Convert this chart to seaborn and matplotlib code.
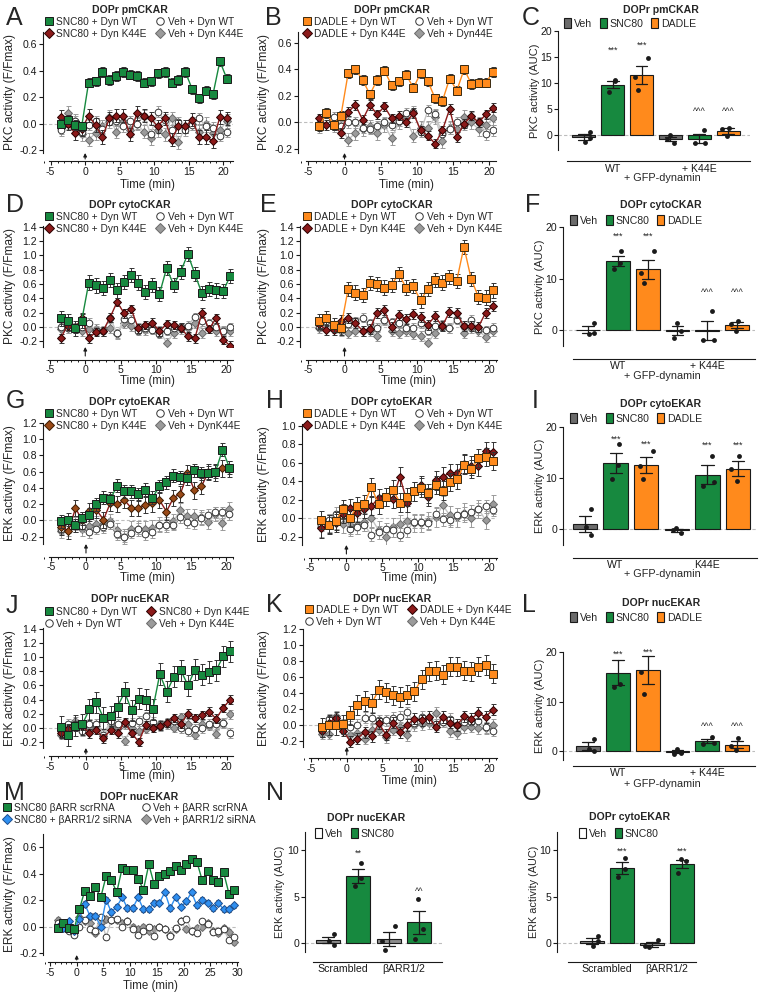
import numpy as np
import pandas as pd
import matplotlib
matplotlib.use("Agg")
import matplotlib.pyplot as plt
from matplotlib.lines import Line2D
from matplotlib.patches import Patch
from matplotlib.ticker import MultipleLocator, FormatStrFormatter
import seaborn as sns

W, H = 762, 994

GREEN = "#17893f"
ORANGE = "#ff8a1c"
DKRED = "#8b1a1a"
BROWN = "#9a4a18"
BLUE = "#2f8ff0"
VEH_BAR = "#6b6b6b"
VEH_BAR_N = "#8c8c8c"

# ---------------- time course data (F/Fmax) ----------------
t20 = np.arange(-3.5, 21, 1.0)
t30 = np.arange(-3.5, 30, 1.0)

A_snc_wt = [0.0, 0.03, -0.01, -0.02, 0.31, 0.32, 0.39, 0.33, 0.36, 0.39, 0.37, 0.36, 0.31,
            0.32, 0.38, 0.39, 0.31, 0.33, 0.39, 0.26, 0.19, 0.25, 0.22, 0.47, 0.34]
A_snc_k44e = [0.05, 0.0, -0.07, -0.04, 0.06, -0.01, -0.1, 0.04, 0.06, 0.06, -0.08, 0.08, 0.06,
              0.04, -0.02, 0.04, -0.12, -0.02, -0.02, 0.03, -0.1, -0.1, -0.13, 0.05, 0.04]
A_veh_wt = [-0.05, 0.0, 0.02, -0.06, -0.01, 0.02, -0.04, 0.01, 0.02, -0.02, 0.02, 0.0, 0.06,
            -0.08, 0.09, 0.03, -0.05, 0.01, -0.05, -0.01, 0.04, -0.02, -0.03, -0.09, -0.06]
A_veh_k44e = [-0.03, 0.08, 0.02, -0.08, -0.12, -0.07, -0.02, 0.05, -0.06, 0.02, -0.05, 0.0, -0.06,
              -0.11, -0.05, -0.08, 0.04, -0.14, -0.02, 0.0, -0.06, 0.0, -0.07, -0.05, 0.02]

B_dad_wt = [-0.03, 0.07, -0.02, 0.05, 0.37, 0.4, 0.32, 0.21, 0.32, 0.39, 0.28, 0.31, 0.36,
            0.26, 0.37, 0.31, 0.18, 0.16, 0.33, 0.24, 0.4, 0.29, 0.3, 0.3, 0.38]
B_dad_k44e = [0.03, -0.02, -0.02, -0.08, 0.08, 0.13, 0.02, 0.13, 0.06, 0.12, 0.03, 0.05, 0.0,
              0.07, -0.06, -0.1, -0.16, -0.06, 0.1, -0.11, -0.01, 0.05, 0.0, 0.06, 0.11]
B_veh_wt = [-0.01, 0.02, 0.04, -0.03, 0.0, 0.0, -0.04, -0.05, -0.03, 0.0, -0.02, 0.01, 0.07,
            0.08, -0.07, 0.09, 0.06, -0.09, -0.05, 0.0, -0.02, 0.04, 0.0, -0.09, -0.06]
B_veh_k44e = [-0.03, 0.05, -0.02, -0.03, -0.13, -0.08, -0.05, -0.03, -0.08, -0.02, -0.12, 0.0, 0.03,
              -0.1, -0.04, -0.04, 0.04, -0.14, -0.04, -0.05, 0.04, 0.0, -0.05, -0.02, 0.03]

D_snc_wt = [0.12, 0.08, -0.02, 0.09, 0.62, 0.58, 0.54, 0.66, 0.51, 0.63, 0.73, 0.62, 0.49,
            0.59, 0.46, 0.82, 0.59, 0.77, 1.02, 0.74, 0.47, 0.53, 0.51, 0.5, 0.71]
D_snc_k44e = [-0.16, 0.02, -0.02, 0.12, -0.16, -0.07, -0.06, 0.13, 0.35, 0.19, 0.25, -0.02, 0.03,
              0.06, -0.06, 0.04, 0.03, -0.01, -0.13, -0.16, 0.2, -0.03, 0.12, -0.18, -0.26]
D_veh_wt = [0.0, -0.02, 0.0, 0.0, 0.06, -0.05, -0.06, 0.13, -0.09, 0.11, 0.1, -0.05, -0.02,
            -0.04, -0.1, -0.05, -0.02, 0.0, 0.02, 0.14, 0.08, 0.05, 0.0, -0.05, 0.0]
D_veh_k44e = [-0.03, -0.02, -0.02, -0.05, -0.03, -0.03, -0.05, -0.01, -0.1, 0.06, 0.02, -0.01, -0.04,
              -0.02, -0.05, -0.22, -0.09, -0.03, -0.02, 0.06, -0.09, -0.02, -0.05, -0.07, -0.05]

E_dad_wt = [0.08, 0.12, 0.03, -0.01, 0.53, 0.48, 0.45, 0.61, 0.6, 0.55, 0.59, 0.74, 0.55,
            0.57, 0.37, 0.53, 0.66, 0.62, 0.7, 0.64, 1.12, 0.67, 0.42, 0.41, 0.51]
E_dad_k44e = [0.04, -0.04, -0.04, 0.09, 0.12, 0.05, -0.05, -0.03, 0.2, 0.23, 0.0, 0.17, 0.11,
              0.18, 0.14, 0.03, 0.15, 0.01, 0.21, 0.19, 0.01, 0.02, 0.0, 0.2, 0.29]
E_veh_wt = [0.0, 0.09, 0.02, 0.02, 0.04, 0.08, 0.13, 0.05, -0.01, 0.1, 0.07, 0.06, -0.01,
            -0.01, 0.05, -0.05, 0.02, 0.0, -0.02, 0.1, 0.02, 0.1, -0.03, -0.04, -0.01]
E_veh_k44e = [-0.01, 0.1, -0.02, -0.05, -0.08, -0.06, -0.06, -0.05, -0.12, 0.1, -0.05, -0.08, -0.06,
              -0.1, -0.13, -0.23, -0.08, 0.03, -0.02, 0.12, -0.09, -0.02, -0.05, -0.14, -0.06]

G_snc_wt = [-0.01, 0.01, -0.06, 0.03, 0.07, 0.2, 0.28, 0.27, 0.43, 0.36, 0.36, 0.32, 0.38,
            0.28, 0.42, 0.47, 0.55, 0.53, 0.52, 0.62, 0.58, 0.59, 0.6, 0.87, 0.65]
G_snc_k44e = [-0.08, -0.13, 0.15, 0.0, 0.12, 0.13, 0.01, 0.22, 0.2, 0.25, 0.15, 0.15, 0.19,
              0.21, 0.25, 0.11, 0.28, 0.33, 0.58, 0.37, 0.42, 0.6, 0.59, 0.64, 0.63]
G_veh_wt = [-0.1, -0.08, -0.05, -0.07, -0.14, -0.1, -0.08, -0.04, -0.17, -0.2, -0.15, -0.1, -0.17,
            -0.14, -0.06, -0.05, -0.05, 0.04, -0.02, -0.03, 0.03, 0.07, 0.1, 0.1, 0.08]
G_veh_k44e = [-0.13, -0.1, -0.05, -0.1, -0.07, -0.04, -0.04, -0.01, -0.12, -0.2, -0.1, -0.1, -0.1,
              -0.09, -0.05, -0.05, -0.01, 0.13, 0.05, 0.05, 0.04, -0.02, 0.08, -0.03, 0.14]

H_dad_wt = [-0.02, -0.07, -0.03, 0.1, 0.0, 0.13, 0.15, 0.34, 0.15, 0.23, 0.31, 0.17, 0.23,
            0.29, 0.33, 0.27, 0.36, 0.3, 0.39, 0.42, 0.58, 0.53, 0.65, 0.66, 0.62]
H_dad_k44e = [-0.11, -0.06, -0.05, 0.05, 0.11, 0.06, 0.1, 0.13, 0.22, 0.23, 0.21, 0.45, 0.17,
              0.29, 0.36, 0.23, 0.41, 0.45, 0.49, 0.49, 0.59, 0.57, 0.56, 0.73, 0.72]
H_veh_wt = [-0.07, -0.02, 0.05, 0.02, -0.12, -0.1, -0.07, -0.18, -0.15, -0.12, -0.13, -0.18, -0.13,
            -0.04, -0.04, -0.05, 0.05, -0.01, -0.02, 0.04, 0.05, 0.07, 0.1, 0.13, 0.09]
H_veh_k44e = [-0.1, -0.05, -0.02, -0.06, -0.07, -0.07, -0.04, 0.0, -0.13, -0.2, -0.1, -0.06, -0.03,
              -0.05, -0.05, -0.03, 0.01, 0.14, 0.03, 0.01, 0.06, 0.0, 0.1, -0.02, 0.15]

J_snc_wt = [0.01, -0.1, 0.03, 0.05, 0.26, 0.36, 0.14, 0.16, 0.3, 0.5, 0.25, 0.41, 0.4,
            0.26, 0.76, 0.51, 0.72, 0.81, 0.6, 0.82, 0.75, 0.79, 0.81, 1.01, 1.08]
J_snc_k44e = [-0.07, -0.02, 0.02, 0.03, -0.08, -0.03, -0.15, -0.03, -0.08, 0.08, -0.07, -0.2, 0.04,
              0.0, 0.03, 0.07, 0.14, 0.06, 0.2, 0.14, 0.18, 0.23, 0.13, 0.28, 0.4]
J_veh_wt = [-0.05, 0.06, 0.05, -0.05, 0.06, 0.06, -0.1, 0.1, 0.06, 0.05, 0.07, 0.1, 0.16,
            0.08, 0.03, 0.05, 0.1, 0.0, -0.05, -0.02, 0.0, 0.06, 0.06, 0.07, -0.07]
J_veh_k44e = [-0.1, -0.02, 0.09, -0.02, 0.0, 0.02, -0.12, 0.05, 0.0, -0.18, 0.0, -0.04, -0.01,
              0.0, 0.05, 0.08, 0.0, 0.15, 0.06, -0.1, 0.05, 0.03, -0.09, 0.07, 0.19]

K_dad_wt = [-0.03, 0.0, 0.0, 0.01, 0.12, 0.25, 0.3, 0.27, 0.44, 0.41, 0.37, 0.35, 0.38,
            0.42, 0.57, 0.67, 0.68, 0.63, 0.73, 0.73, 0.68, 0.67, 0.73, 0.75, 0.64]
K_dad_k44e = [-0.08, 0.03, 0.09, -0.07, -0.21, -0.17, -0.09, -0.14, 0.02, -0.12, 0.03, -0.09, 0.0,
              0.08, 0.06, 0.1, -0.02, 0.1, 0.03, 0.0, 0.11, 0.08, 0.15, 0.1, 0.19]
K_veh_wt = [-0.05, 0.07, 0.06, 0.01, -0.02, 0.0, 0.09, 0.09, 0.06, 0.06, 0.09, 0.1, 0.16,
            0.03, 0.1, 0.06, 0.01, 0.04, 0.08, 0.0, 0.04, 0.04, 0.05, -0.03, -0.07]
K_veh_k44e = [-0.11, -0.11, 0.11, -0.03, -0.12, -0.1, -0.17, -0.06, -0.06, -0.15, -0.06, -0.03, -0.13,
              0.0, 0.01, 0.02, 0.15, 0.04, -0.08, -0.1, -0.03, -0.02, -0.04, -0.04, 0.0]

M_snc_scr = [-0.01, 0.03, -0.01, -0.02, 0.13, 0.27, 0.23, 0.3, 0.22, 0.38, 0.35, 0.26, 0.44, 0.43,
             0.43, 0.36, 0.28, 0.47, 0.32, 0.38, 0.4, 0.42, 0.46, 0.43, 0.47, 0.51, 0.49, 0.35,
             0.42, 0.35, 0.34, 0.41, 0.25, 0.28]
M_snc_si = [0.0, -0.01, 0.04, -0.03, 0.06, 0.17, 0.08, 0.08, 0.0, 0.2, 0.11, 0.15, 0.22, 0.14,
            0.14, 0.22, 0.13, 0.13, 0.18, 0.18, 0.26, 0.14, 0.22, 0.15, 0.19, 0.26, 0.16, 0.2,
            0.18, 0.14, 0.18, 0.13, 0.13, 0.16]
M_veh_scr = [0.03, -0.01, -0.03, -0.06, 0.0, 0.05, -0.02, -0.03, 0.07, -0.08, 0.05, 0.06, 0.0, 0.04,
             -0.02, -0.06, -0.03, 0.0, -0.07, 0.0, -0.02, -0.07, -0.01, 0.04, 0.06, -0.03, -0.05,
             0.04, 0.02, -0.04, -0.03, -0.02, -0.1, -0.08]
M_veh_si = [0.05, 0.03, -0.02, -0.03, 0.07, 0.04, 0.03, -0.05, 0.03, 0.06, 0.05, 0.05, 0.03, 0.04,
            0.0, -0.02, 0.0, -0.03, -0.02, 0.0, -0.02, -0.06, -0.02, 0.04, -0.02, -0.03, -0.01,
            0.0, 0.03, -0.03, -0.05, -0.01, -0.04, -0.12]

# ---------------- AUC replicate dots ----------------
cats6 = ["Veh WT", "SNC80 WT", "DADLE WT", "Veh K44E", "SNC80 K44E", "DADLE K44E"]
C_dots = [[0.6, -1.3, -0.5], [10.5, 10.3, 8.3], [14.8, 11.2, 8.6],
          [-0.1, -1.6, -0.7], [1.0, -1.6, -1.6], [1.4, 1.2, -0.3]]
F_dots = [[1.4, -0.7, -0.6], [15.3, 13.0, 11.8], [15.3, 11.0, 9.1],
          [1.4, -0.2, -1.5], [3.6, -2.0, -1.9], [1.7, 1.2, -0.1]]
I_dots = [[3.9, 0.4, -1.2], [16.6, 12.6, 9.8], [15.3, 12.4, 9.9],
          [0.3, -0.7, -0.2], [14.4, 9.3, 8.4], [14.4, 11.7, 9.4]]
L_dots = [[2.5, 0.5, 0.0], [21.0, 13.5, 13.0], [21.5, 16.0, 11.5],
          [0.5, -0.4, -0.5], [2.8, 1.7, 1.5], [2.6, 1.0, 0.3]]
cats4 = ["Veh scr", "SNC80 scr", "Veh si", "SNC80 si"]
N_dots = [[0.9, 0.2, -0.2], [8.6, 7.0, 6.1], [1.8, 0.2, -0.8], [4.7, 1.5, 0.4]]
O_dots = [[0.7, -0.3, 0.2], [9.2, 8.0, 7.1], [0.3, -0.4, -0.5], [9.1, 8.9, 7.6]]

# ---------------- style ----------------
sns.set_theme(style="ticks")
plt.rcParams["font.family"] = ["Liberation Sans", "DejaVu Sans"]
plt.rcParams.update({
    "font.size": 7.5, "axes.linewidth": 0.8, "axes.unicode_minus": False,
    "xtick.major.size": 3, "ytick.major.size": 3, "xtick.minor.size": 1.6,
    "xtick.major.width": 0.8, "ytick.major.width": 0.8, "xtick.minor.width": 0.7,
    "xtick.major.pad": 1.0, "ytick.major.pad": 1.2,
    "xtick.labelsize": 7.6, "ytick.labelsize": 7.6, "axes.labelsize": 8.3,
    "xtick.color": "k", "ytick.color": "k", "axes.edgecolor": "k",
})

STY = {
    "snc": dict(marker="s", ms=5.2, mfc=GREEN, mec="#1a1a1a", lc=GREEN, ec="#333333", z=6),
    "dad": dict(marker="s", ms=5.2, mfc=ORANGE, mec="#3a2a10", lc=ORANGE, ec="#333333", z=6),
    "k44e": dict(marker="D", ms=4.2, mfc=DKRED, mec="#2a0000", lc=DKRED, ec="#333333", z=5),
    "k44e_br": dict(marker="D", ms=4.2, mfc=BROWN, mec="#3a1a00", lc=DKRED, ec="#333333", z=5),
    "blue": dict(marker="D", ms=4.2, mfc=BLUE, mec="#1d4f8f", lc=BLUE, ec="#333333", z=5),
    "veh": dict(marker="o", ms=4.8, mfc="white", mec="#333333", lc="#c4c4c4", ec="#9a9a9a", z=4),
    "vehk": dict(marker="D", ms=4.2, mfc="#9b9b9b", mec="#6a6a6a", lc="#c4c4c4", ec="#9a9a9a", z=3),
}

fig = plt.figure(figsize=(W / 100, H / 100), dpi=100)


def add_ax(box):
    x0, y0, x1, y1 = box
    return fig.add_axes([x0 / W, 1 - y1 / H, (x1 - x0) / W, (y1 - y0) / H])


def to_ax(box, px, py):
    x0, y0, x1, y1 = box
    return (px - x0) / (x1 - x0), (y1 - py) / (y1 - y0)


def ftext(px, py, s, **kw):
    fig.text(px / W, 1 - py / H, s, **kw)


def time_panel(box, t, series, xlim, ylim, yticks, x_out, ylabel, ylab_x, xlab_y,
               title, title_px, leg_order, leg_px, xmax_tick=20, capsize=1.8):
    ax = add_ax(box)
    ax.axhline(0, color="#bdbdbd", ls=(0, (3, 2)), lw=0.8, zorder=0)
    handles, labels = [], []
    for yv, sem, key, lab in series:
        st = STY[key]
        sns.lineplot(x=t, y=yv, ax=ax, color=st["lc"], lw=1.0, marker=st["marker"],
                     markersize=st["ms"], markerfacecolor=st["mfc"], markeredgecolor=st["mec"],
                     markeredgewidth=0.7, zorder=st["z"], legend=False)
        ax.errorbar(t, yv, yerr=sem, fmt="none", ecolor=st["ec"], elinewidth=0.7,
                    capsize=capsize, capthick=0.7, zorder=st["z"] - 0.5)
        handles.append(Line2D([], [], ls="none", marker=st["marker"], ms=st["ms"] + 0.6,
                              mfc=st["mfc"], mec=st["mec"], mew=0.7))
        labels.append(lab)
    ax.set_xlim(*xlim)
    ax.set_ylim(*ylim)
    ax.set_yticks(yticks)
    ax.yaxis.set_major_formatter(FormatStrFormatter("%.1f"))
    ax.xaxis.set_minor_locator(MultipleLocator(1))
    ax.set_xticks(np.arange(-5, xmax_tick + 1, 5))
    ax.set_xticklabels([str(v) for v in range(-5, xmax_tick + 1, 5)])
    for s in ("top", "right"):
        ax.spines[s].set_visible(False)
    ax.spines["bottom"].set_position(("outward", x_out))
    ax.spines["bottom"].set_bounds(-5.3, xlim[1])
    # label coords: right edge for y label, top edge for x label
    ax.set_ylabel(ylabel, fontsize=8.6)
    ax.yaxis.set_label_coords(to_ax(box, ylab_x + 5, 0)[0], 0.5)
    ax.set_xlabel("Time (min)")
    ax.xaxis.set_label_coords(0.55, to_ax(box, 0, xlab_y - 5)[1])
    ax.annotate("", xy=(0, ylim[0]), xycoords="data",
                xytext=(0, -x_out * 0.72), textcoords="offset points",
                arrowprops=dict(arrowstyle="-|>", lw=0.8, color="k", mutation_scale=5,
                                shrinkA=0, shrinkB=0), annotation_clip=False)
    ftext(title_px[0], title_px[1], title, ha="center", va="center", fontweight="bold",
          fontsize=7.6)
    hs = [handles[i] for i in leg_order]
    ls = [labels[i] for i in leg_order]
    ax.legend(hs, ls, ncol=2, loc="upper left", frameon=False,
              bbox_to_anchor=(leg_px[0] / W, 1 - leg_px[1] / H), bbox_transform=fig.transFigure,
              handlelength=0.9, handletextpad=0.3, columnspacing=0.9, labelspacing=0.2,
              borderpad=0, borderaxespad=0, fontsize=7.3)
    return ax


def bar_panel(box, cats, dots, colors, xlim, xstart, ylim, yticks, x_out, groups, ylabel,
              ylab_x, title, title_px, leg_items, leg_px, stars, sub=None, ylab_size=8.0):
    ax = add_ax(box)
    ax.axhline(0, color="#bdbdbd", ls=(0, (3, 2)), lw=0.8, zorder=0)
    df = pd.DataFrame({"cond": np.repeat(cats, 3), "val": np.concatenate(dots)})
    pal = dict(zip(cats, colors))
    sns.barplot(data=df, x="cond", y="val", hue="cond", order=cats, hue_order=cats,
                palette=pal, dodge=False, legend=False, errorbar="se", capsize=0.4,
                err_kws={"color": "k", "linewidth": 0.9}, edgecolor="k", linewidth=0.8,
                width=0.8, saturation=1, ax=ax)
    np.random.seed(4)
    sns.stripplot(data=df, x="cond", y="val", order=cats, color="k", size=3.5,
                  jitter=0.22, ax=ax, zorder=5)
    ax.set_xlim(*xlim)
    ax.set_ylim(*ylim)
    ax.set_yticks(yticks)
    ax.set_xticks([g[0] for g in groups])
    ax.set_xticklabels([g[1] for g in groups], fontsize=7.8)
    ax.tick_params(axis="x", length=0, pad=1.8)
    for s in ("top", "right"):
        ax.spines[s].set_visible(False)
    ax.spines["bottom"].set_position(("outward", x_out))
    ax.spines["bottom"].set_bounds(xstart, xlim[1])
    ax.set_xlabel("")
    ax.set_ylabel(ylabel, fontsize=ylab_size)
    ax.yaxis.set_label_coords(to_ax(box, ylab_x + 5, 0)[0], 0.5)
    for pos, yv, s in stars:
        ax.text(pos, yv, s, ha="center", va="center", fontsize=6.5)
    ftext(title_px[0], title_px[1], title, ha="center", va="center", fontweight="bold",
          fontsize=7.6)
    if sub is not None:
        ftext(sub[0], sub[1], "+ GFP-dynamin", ha="center", va="center", fontsize=7.8)
    hs = [Patch(facecolor=c, edgecolor="k", lw=0.8) for _, c in leg_items]
    ax.legend(hs, [l for l, _ in leg_items], ncol=len(leg_items), loc="upper left",
              frameon=False, bbox_to_anchor=(leg_px[0] / W, 1 - leg_px[1] / H),
              bbox_transform=fig.transFigure, handlelength=0.7, handleheight=1.1,
              handletextpad=0.25, columnspacing=0.7, borderpad=0, borderaxespad=0, fontsize=7.6)
    return ax


leg_dyn = [("Veh", VEH_BAR), ("SNC80", GREEN), ("DADLE", ORANGE)]
bar6 = [VEH_BAR, GREEN, ORANGE] * 2

# ---------------- row 1 ----------------
time_panel((43, 32, 233, 153), t20,
           [(A_veh_wt, 0.04, "veh", "Veh + Dyn WT"), (A_veh_k44e, 0.05, "vehk", "Veh + Dyn K44E"),
            (A_snc_k44e, 0.05, "k44e", "SNC80 + Dyn K44E"), (A_snc_wt, 0.035, "snc", "SNC80 + Dyn WT")],
           (-6.1, 21.4), (-0.22, 0.69), [-0.2, 0.0, 0.2, 0.4, 0.6], 6,
           "PKC activity (F/Fmax)", 11, 184, "DOPr pmCKAR", (130, 10), [3, 2, 0, 1], (44, 17))
time_panel((298, 32, 496, 153), t20,
           [(B_veh_wt, 0.04, "veh", "Veh + Dyn WT"), (B_veh_k44e, 0.05, "vehk", "Veh + Dyn44E"),
            (B_dad_k44e, 0.035, "k44e", "DADLE + Dyn K44E"), (B_dad_wt, 0.035, "dad", "DADLE + Dyn WT")],
           (-6.42, 20.9), (-0.23, 0.68), [-0.2, 0.0, 0.2, 0.4, 0.6], 6,
           "PKC activity (F/Fmax)", 265, 184, "DOPr pmCKAR", (392, 10), [3, 2, 0, 1], (302, 17))
bar_panel((558, 31, 750, 150), cats6, C_dots, bar6, (-0.9, 5.76), -0.6, (-2.9, 20),
          [0, 5, 10, 15, 20], 8, [(1, "WT"), (4, "+ K44E")], "PKC activity (AUC)", 535,
          "DOPr pmCKAR", (661, 10), leg_dyn, (564, 18),
          [(1, 16.3, "***"), (2, 17.3, "***"), (4, 4.5, "^^^"), (5, 4.5, "^^^")], sub=(662, 178))

# ---------------- row 2 ----------------
time_panel((43, 226, 233, 347), t20,
           [(D_veh_wt, 0.06, "veh", "Veh + Dyn WT"), (D_veh_k44e, 0.07, "vehk", "Veh + Dyn K44E"),
            (D_snc_k44e, 0.06, "k44e", "SNC80 + Dyn K44E"), (D_snc_wt, 0.1, "snc", "SNC80 + Dyn WT")],
           (-5.98, 20.9), (-0.28, 1.41), [-0.2, 0.0, 0.2, 0.4, 0.6, 0.8, 1.0, 1.2, 1.4], 9,
           "PKC activity (F/Fmax)", 11, 380, "DOPr cytoCKAR", (130, 205), [3, 2, 0, 1], (44, 212))
time_panel((300, 226, 497, 347), t20,
           [(E_veh_wt, 0.06, "veh", "Veh + Dyn WT"), (E_veh_k44e, 0.07, "vehk", "Veh + Dyn K44E"),
            (E_dad_k44e, 0.07, "k44e", "DADLE + Dyn K44E"), (E_dad_wt, 0.1, "dad", "DADLE + Dyn WT")],
           (-6.15, 21.07), (-0.28, 1.41), [-0.2, 0.0, 0.2, 0.4, 0.6, 0.8, 1.0, 1.2, 1.4], 9,
           "PKC activity (F/Fmax)", 265, 380, "DOPr cytoCKAR", (392, 205), [3, 2, 0, 1], (302, 212))
bar_panel((563, 227, 755, 346), cats6, F_dots, bar6, (-0.84, 5.6), -0.5, (-3.1, 20),
          [0, 10, 20], 9, [(1, "WT"), (4, "+ K44E")], "PKC activity (AUC)", 540,
          "DOPr cytoCKAR", (661, 205), leg_dyn, (570, 215),
          [(1, 18.3, "***"), (2, 18.3, "***"), (4, 7.3, "^^^"), (5, 7.3, "^^^")], sub=(662, 376))

# ---------------- row 3 ----------------
time_panel((43, 423, 233, 544), t20,
           [(G_veh_wt, 0.07, "veh", "Veh + Dyn WT"), (G_veh_k44e, 0.09, "vehk", "Veh + DynK44E"),
            (G_snc_k44e, 0.1, "k44e_br", "SNC80 + Dyn K44E"), (G_snc_wt, 0.08, "snc", "SNC80 + Dyn WT")],
           (-6.14, 21.0), (-0.29, 1.2), [-0.2, 0.0, 0.2, 0.4, 0.6, 0.8, 1.0, 1.2], 9,
           "ERK activity (F/Fmax)", 11, 577, "DOPr cytoEKAR", (130, 402), [3, 2, 0, 1], (44, 409))
time_panel((302, 424, 497, 545), t20,
           [(H_veh_wt, 0.07, "veh", "Veh + Dyn WT"), (H_veh_k44e, 0.1, "vehk", "Veh + Dyn K44E"),
            (H_dad_k44e, 0.1, "k44e", "DADLE + Dyn K44E"), (H_dad_wt, 0.1, "dad", "DADLE + Dyn WT")],
           (-6.22, 21.1), (-0.29, 1.02), [-0.2, 0.0, 0.2, 0.4, 0.6, 0.8, 1.0], 9,
           "ERK activity (F/Fmax)", 265, 577, "DOPr cytoEKAR", (392, 402), [3, 2, 0, 1], (302, 409))
bar_panel((563, 427, 757, 545), cats6, I_dots, bar6, (-0.72, 5.62), -0.4, (-3.1, 20),
          [0, 10, 20], 9, [(1, "WT"), (4, "K44E")], "ERK activity (AUC)", 540,
          "DOPr cytoEKAR", (661, 404), leg_dyn, (570, 413),
          [(1, 17.6, "***"), (2, 16.6, "***"), (4, 16.4, "***"), (5, 16.4, "***")], sub=(662, 574))

# ---------------- row 4 ----------------
time_panel((43, 628, 233, 748), t20,
           [(J_veh_wt, 0.07, "veh", "Veh + Dyn WT"), (J_veh_k44e, 0.06, "vehk", "Veh + Dyn K44E"),
            (J_snc_k44e, 0.06, "k44e", "SNC80 + Dyn K44E"), (J_snc_wt, 0.15, "snc", "SNC80 + Dyn WT")],
           (-6.09, 20.9), (-0.285, 1.41), [-0.2, 0.0, 0.2, 0.4, 0.6, 0.8, 1.0, 1.2, 1.4], 6,
           "ERK activity (F/Fmax)", 11, 775, "DOPr nucEKAR", (130, 599), [3, 0, 2, 1], (44, 607))
time_panel((303, 629, 497, 747), t20,
           [(K_veh_wt, 0.07, "veh", "Veh + Dyn WT"), (K_veh_k44e, 0.07, "vehk", "Veh + Dyn K44E"),
            (K_dad_k44e, 0.07, "k44e", "DADLE + Dyn K44E"), (K_dad_wt, 0.12, "dad", "DADLE + Dyn WT")],
           (-6.15, 21.1), (-0.275, 1.2), [-0.2, 0.0, 0.2, 0.4, 0.6, 0.8, 1.0, 1.2], 8,
           "ERK activity (F/Fmax)", 265, 780, "DOPr nucEKAR", (392, 599), [3, 0, 2, 1], (304, 605))
bar_panel((563, 652, 755, 760), cats6, L_dots, bar6, (-0.84, 5.6), -0.5, (-1.8, 20),
          [0, 10, 20], 4, [(1, "WT"), (4, "+ K44E")], "ERK activity (AUC)", 540,
          "DOPr nucEKAR", (661, 603), leg_dyn, (570, 612),
          [(1, 19.6, "***"), (2, 20.0, "***"), (4, 5.0, "^^^"), (5, 5.0, "^^^")], sub=(662, 784))

# ---------------- row 5 ----------------
time_panel((43, 834, 238, 955), t30,
           [(M_veh_scr, 0.02, "veh", "Veh + βARR scrRNA"), (M_veh_si, 0.02, "vehk", "Veh + βARR1/2 siRNA"),
            (M_snc_si, 0.02, "blue", "SNC80 + βARR1/2 siRNA"), (M_snc_scr, 0.02, "snc", "SNC80 βARR scrRNA")],
           (-6.31, 30.2), (-0.215, 0.7), [-0.2, 0.0, 0.2, 0.4, 0.6], 5,
           "ERK activity (F/Fmax)", 11, 985, "DOPr nucEKAR", (139, 797), [3, 2, 0, 1], (2, 803),
           xmax_tick=30, capsize=1.2)
bar_panel((305, 832, 442, 952), cats4, N_dots, [VEH_BAR_N, GREEN] * 2, (-0.76, 3.76), -0.5,
          (-1.0, 12), [0, 5, 10], 7, [(0.5, "Scrambled"), (2.5, "βARR1/2")], "ERK activity (AUC)", 280,
          "DOPr nucEKAR", (366, 818), [("Veh", "white"), ("SNC80", GREEN)], (315, 828),
          [(1, 9.7, "**"), (3, 5.6, "^^")], ylab_size=7.8)
bar_panel((557, 832, 696, 952), cats4, O_dots, [VEH_BAR_N, GREEN] * 2, (-1.17, 3.47), -0.8,
          (-1.0, 12), [0, 5, 10], 7, [(0.5, "Scrambled"), (2.5, "βARR1/2")], "ERK activity (AUC)", 534,
          "DOPr cytoEKAR", (630, 817), [("Veh", "white"), ("SNC80", GREEN)], (579, 828),
          [(1, 9.9, "***"), (3, 9.9, "***")], ylab_size=7.8)

# ---------------- panel letters ----------------
for letter, px, py in [("A", 6, 25), ("B", 265, 25), ("C", 522, 25),
                       ("D", 6, 212), ("E", 260, 212), ("F", 525, 212),
                       ("G", 6, 408), ("H", 266, 408), ("I", 532, 408),
                       ("J", 6, 613), ("K", 266, 612), ("L", 522, 612),
                       ("M", 4, 800), ("N", 266, 800), ("O", 522, 800)]:
    ftext(px, py, letter, fontsize=18, va="baseline", ha="left")

fig.savefig("out.png", dpi=100)
